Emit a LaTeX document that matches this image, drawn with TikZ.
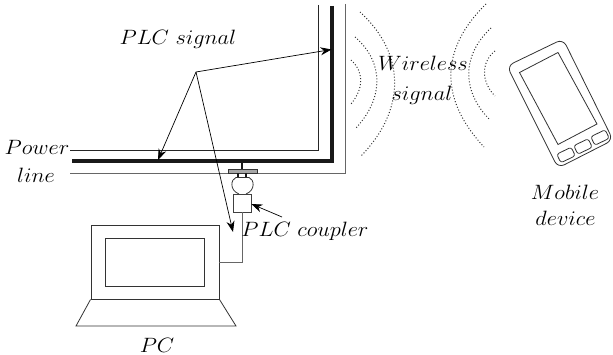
\documentclass[tikz,border=0pt]{standalone}
\usetikzlibrary{arrows.meta}
\newcommand{\lb}[1]{\scalebox{1.08}[1]{$#1$}}
\tikzset{
 lbl/.style={inner sep=0pt,font=\fontsize{20}{24}\selectfont},
 wire/.style={draw=black!85,line width=0.8pt},
 grayw/.style={draw=black!60,line width=1pt},
 thick line/.style={draw=black!90,line width=3.2pt,line cap=butt,line join=miter},
 sig/.style={draw=black,line width=0.7pt,-{Stealth[length=11pt,width=8pt]}},
 wave/.style={draw=black!80,line width=1pt,dotted},
 dev/.style={draw=black!80,line width=0.8pt},
 btn/.style={draw=black!80,line width=0.8pt,rounded corners=2.5pt,minimum width=16pt,minimum height=9.5pt,inner sep=0pt,rotate=26}
}
\begin{document}
\begin{tikzpicture}[x=1pt,y=-1pt]
\useasboundingbox (0,0) rectangle (613,355);
% lines
\draw[wire] (318,5) -- (318,150) -- (70,150);
\draw[thick line] (332,6) -- (332,161) -- (72,161);
\draw[grayw] (345,4) -- (345,173.5) -- (70,173.5);
% coupler
\draw[thick line,line width=2.6pt] (242,161) -- (242,170);
\draw[dev,fill=black!35] (228,169.5) rectangle (257.5,173.5);
\draw[line width=1.6pt,black!90] (238,173.5) -- (238,177.5) (246,173.5) -- (246,177.5);
\draw[dev,line width=1pt] (236,177.5) -- (249,177.5);
\draw[dev] (236,177.5) .. controls (231,179) and (229,190) .. (239,194);
\draw[dev] (249,177.5) .. controls (254,179) and (256,190) .. (246,194);
\node[draw=black!75,line width=0.8pt,minimum width=18pt,minimum height=18pt,inner sep=0pt] (cp) at (242,203) {};
% laptop
\node[draw=black!80,line width=0.9pt,minimum width=128pt,minimum height=74pt,inner sep=0pt] (lap) at (155,262) {};
\node[draw=black!80,line width=0.9pt,minimum width=99pt,minimum height=48pt,inner sep=0pt] (scr) at (154.5,262) {};
\draw[dev] (lap.south west) -- (76,326) -- (236,326) -- (lap.south east);
\draw[grayw,line width=0.9pt] (cp.south) -- (242,262) -- (lap.east);
% signals
\coordinate (apex) at (196,72);
\coordinate (s1) at (331.5,49.5);
\coordinate (s2) at (158,160);
\coordinate (s3) at (233,232);
\draw[sig] (apex) -- (s1);
\draw[sig] (apex) -- (s2);
\draw[sig] (apex) -- (s3);
% coupler arrow
\coordinate (ca) at (282,217);
\draw[sig] (ca) -- (cp.east |- 0,204);
% waves
\draw[wave] (351,60) .. controls (364,72) and (364,88) .. (351,104);
\draw[wave] (355,37) .. controls (384,62) and (384,98) .. (356,128);
\draw[wave] (360,12) .. controls (406,54) and (406,110) .. (361,156);
\draw[wave] (495,51) .. controls (481,62) and (481,82) .. (495,96);
\draw[wave] (491,28) .. controls (461,56) and (462,92) .. (490,120);
\draw[wave] (486,4) .. controls (439,50) and (440,100) .. (484,147);
% phone
\draw[dev,rounded corners=7pt] (507,66) -- (563,39) -- (613,140) -- (558,168) -- cycle;
\draw[dev] (519.5,72.5) -- (558,52.5) -- (597,124) -- (558,144.5) -- cycle;
\node[btn] (b1) at (566,155) {};
\node[btn] (b2) at (583,146.5) {};
\node[btn] (b3) at (600,137.5) {};
% labels
\node[lbl] (t1) at (178,39.5) {\lb{PLC\ signal}};
\node[lbl] (t2) at (37,147) {\lb{Power}};
\node[lbl] (t3) at (36,175) {\lb{line}};
\node[lbl] (t4) at (423,63) {\lb{Wireless}};
\node[lbl] (t5) at (422,95) {\lb{signal}};
\node[lbl] (t6) at (565,192) {\lb{Mobile}};
\node[lbl] (t7) at (565.5,218) {\lb{device}};
\node[lbl] (t8) at (305,231) {\lb{PLC\ coupler}};
\node[lbl] (t9) at (157,345) {\lb{PC}};
\end{tikzpicture}
\end{document}
